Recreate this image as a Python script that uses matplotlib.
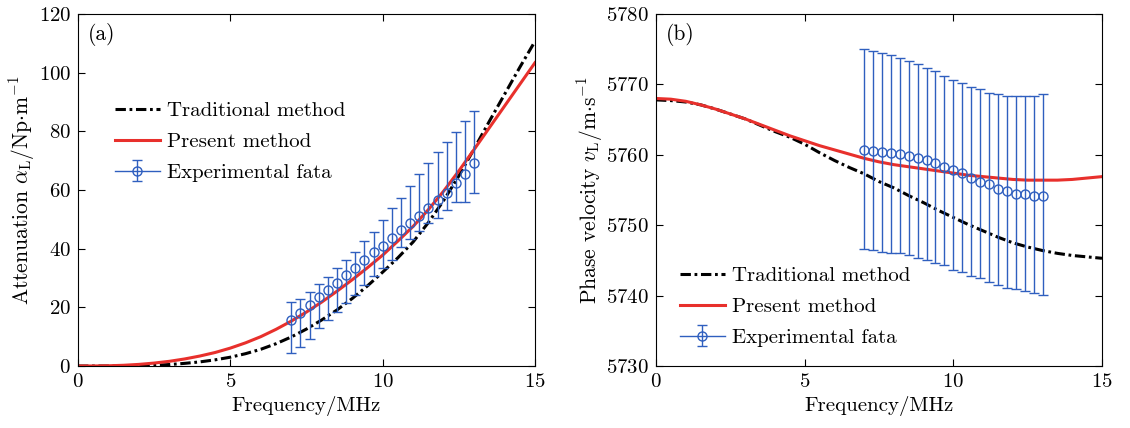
import matplotlib
matplotlib.use('Agg')
import matplotlib.pyplot as plt
from matplotlib.legend_handler import HandlerErrorbar
import numpy as np

plt.rcParams['font.family'] = ['cmr10', 'DejaVu Serif']
plt.rcParams['mathtext.fontset'] = 'cm'
plt.rcParams['axes.unicode_minus'] = False
plt.rcParams['axes.formatter.use_mathtext'] = True

# frequency grid of the model curves (MHz)
freq = np.arange(0, 15.01, 0.5)

# (a) attenuation, Np/m
att_trad = [0, 0, 0.0, 0.03, 0.1, 0.25, 0.5, 0.9, 1.4, 2.1, 3.0, 4.2, 5.7, 7.6, 9.9,
            12.6, 15.7, 19.1, 23.0, 27.3, 32.0, 36.9, 42.3, 48.9, 56.4, 64.8,
            74.0, 83.4, 92.6, 101.8, 110.7]
att_pres = [0, 0.01, 0.08, 0.25, 0.55, 1.0, 1.6, 2.4, 3.4, 4.6, 6.1, 7.9, 10.0, 12.5,
            15.3, 18.4, 21.8, 25.5, 29.4, 33.5, 37.8, 42.6, 47.6, 53.3, 59.6,
            66.5, 73.8, 81.2, 88.6, 96.0, 103.4]

# (b) phase velocity, m/s
vel_trad = [5767.8, 5767.7, 5767.5, 5767.1, 5766.5, 5765.8, 5765.1, 5764.2, 5763.3,
            5762.5, 5761.5, 5760.3, 5759.2, 5758.2, 5757.3, 5756.2, 5755.3, 5754.2,
            5753.2, 5752.1, 5751.1, 5750.1, 5749.2, 5748.3, 5747.5, 5746.9, 5746.4,
            5746.0, 5745.7, 5745.5, 5745.3]
vel_pres = [5768.0, 5767.9, 5767.6, 5767.1, 5766.5, 5765.8, 5765.1, 5764.3, 5763.5,
            5762.7, 5762.0, 5761.3, 5760.7, 5760.1, 5759.5, 5759.0, 5758.6, 5758.3,
            5758.0, 5757.7, 5757.4, 5757.1, 5756.9, 5756.7, 5756.5, 5756.4, 5756.4,
            5756.4, 5756.5, 5756.7, 5756.9]

# experimental points
f_exp = np.arange(7.0, 13.01, 0.3)
att_exp = [15.7, 18.2, 20.8, 23.4, 25.9, 28.4, 31.0, 33.5, 36.1, 38.7, 41.0, 43.7,
           46.4, 48.6, 51.0, 53.7, 56.6, 59.1, 62.3, 65.5, 69.1]
att_hi = [21.9, 23.0, 25.3, 27.8, 30.5, 33.3, 36.2, 39.0, 42.7, 45.8, 49.8, 53.8,
          57.4, 61.4, 65.5, 69.1, 72.9, 76.5, 79.9, 83.6, 87.0]
att_lo = [4.3, 6.6, 9.2, 12.8, 15.7, 18.3, 21.4, 24.2, 27.6, 30.7, 33.3, 36.1,
          40.7, 43.2, 46.1, 48.9, 50.3, 53.2, 55.8, 56.0, 58.9]
vel_exp = [5760.7, 5760.6, 5760.4, 5760.3, 5760.1, 5759.8, 5759.6, 5759.3, 5758.9,
           5758.3, 5757.9, 5757.4, 5756.7, 5756.2, 5755.8, 5755.2, 5754.9, 5754.5,
           5754.4, 5754.1, 5754.1]
vel_hi = [5775.0, 5774.7, 5774.4, 5774.2, 5773.7, 5773.3, 5772.9, 5772.3, 5771.9,
          5771.2, 5770.6, 5770.2, 5769.7, 5769.3, 5768.8, 5768.6, 5768.4, 5768.4,
          5768.4, 5768.4, 5768.6]
vel_lo = [5746.6, 5746.5, 5746.2, 5746.1, 5746.0, 5745.7, 5745.4, 5745.1, 5744.7,
          5744.3, 5743.7, 5743.3, 5742.8, 5742.5, 5742.0, 5741.5, 5741.1, 5740.9,
          5740.6, 5740.3, 5740.1]

blue = '#2f5fbf'
red = '#e8302c'
fs = 15


class LinedErrorbar(HandlerErrorbar):
    # legend entry shows a horizontal line through the marker, like the original
    def create_artists(self, *args, **kwargs):
        arts = super().create_artists(*args, **kwargs)
        arts[-2].set_linestyle('-')
        arts[-2].set_linewidth(1.0)
        arts[-2].set_color(blue)
        return arts


fig = plt.figure(figsize=(11.30, 4.28), dpi=100)
ax1 = fig.add_axes([78/1130, 62/428, 457/1130, 352/428])
ax2 = fig.add_axes([656/1130, 62/428, 446/1130, 352/428])


def panel(ax, trad, pres, y, lo, hi, tag, ylabel, ylim, yticks, legpos):
    ax.plot(freq, trad, color='k', ls=(0, (3.4, 1.2, 0.9, 1.2)), lw=2.2,
            label='Traditional method')
    ax.plot(freq, pres, color=red, lw=2.2, label='Present method')
    y = np.array(y)
    err = [y - np.array(lo), np.array(hi) - y]
    eb = ax.errorbar(f_exp, y, yerr=err, fmt='o', ms=6.5, mfc='none', mec=blue,
                     mew=1.0, color=blue, ecolor=blue, elinewidth=1.0,
                     capsize=3.5, capthick=1.0, label='Experimental fata')
    ax.set_xlim(0, 15)
    ax.set_ylim(*ylim)
    ax.set_xticks([0, 5, 10, 15])
    ax.set_yticks(yticks)
    ax.tick_params(direction='in', top=True, right=True, length=5, width=0.8,
                   labelsize=fs, pad=5)
    ax.set_xlabel('Frequency/MHz', fontsize=fs, labelpad=4)
    ax.set_ylabel(ylabel, fontsize=fs + 0.5, labelpad=1)
    ax.text(0.022, 0.925, tag, transform=ax.transAxes, fontsize=fs + 0.5)
    h, l = ax.get_legend_handles_labels()
    ax.legend(h, l, loc='upper left', bbox_to_anchor=legpos, frameon=False,
              fontsize=fs, handlelength=2.15, handletextpad=0.35,
              labelspacing=0.6, borderaxespad=0, borderpad=0,
              handler_map={eb: LinedErrorbar()})
    for s in ax.spines.values():
        s.set_linewidth(0.8)


panel(ax1, att_trad, att_pres, att_exp, att_lo, att_hi, '(a)',
      r'Attenuation $\alpha_{\rm L}$/Np$\cdot$m$^{-1}$', (0, 120),
      [0, 20, 40, 60, 80, 100, 120], (0.081, 0.752))
panel(ax2, vel_trad, vel_pres, vel_exp, vel_lo, vel_hi, '(b)',
      r'Phase velocity $v_{\rm L}$/m$\cdot$s$^{-1}$', (5730, 5780),
      [5730, 5740, 5750, 5760, 5770, 5780], (0.054, 0.283))

fig.savefig('out.png', dpi=100)
